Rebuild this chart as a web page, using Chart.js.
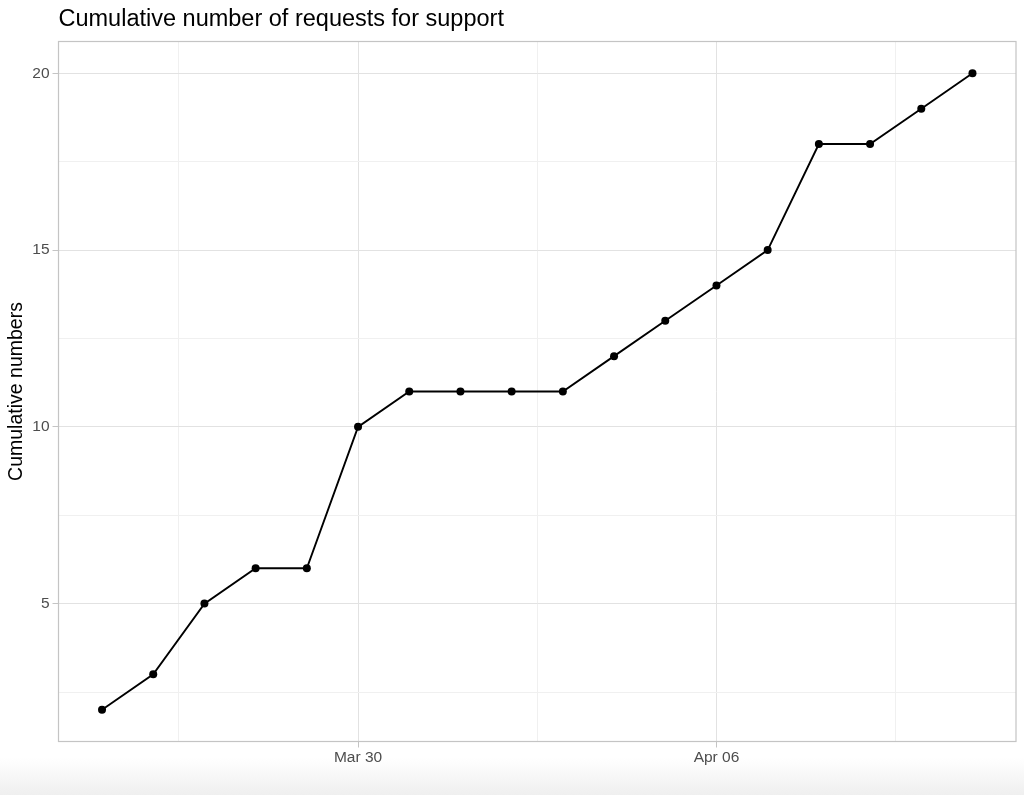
<!DOCTYPE html>
<html>
<head>
<meta charset="utf-8">
<script src="https://cdn.jsdelivr.net/npm/chart.js@4"></script>
<style>
  html, body { margin: 0; padding: 0; }
  body {
    width: 1024px; height: 795px;
    background: linear-gradient(to bottom, #ffffff 0px, #ffffff 758px, #efefef 795px);
  }
  #wrap { position: relative; width: 1024px; height: 795px; }
</style>
</head>
<body>
<div id="wrap"><canvas id="chart"></canvas></div>
<script>
// daily cumulative counts
const dates = [
  "2020-03-25", "2020-03-26", "2020-03-27", "2020-03-28", "2020-03-29", "2020-03-30",
  "2020-03-31", "2020-04-01", "2020-04-02", "2020-04-03", "2020-04-04", "2020-04-05",
  "2020-04-06", "2020-04-07", "2020-04-08", "2020-04-09", "2020-04-10", "2020-04-11"
];
const cumulative = [2, 3, 5, 6, 6, 10, 11, 11, 11, 11, 12, 13, 14, 15, 18, 18, 19, 20];

const yMajor = [5, 10, 15, 20];
const yMinor = [2.5, 7.5, 12.5, 17.5];
const xMajorDates = ["2020-03-30", "2020-04-06"];
const monthNames = ["Jan", "Feb", "Mar", "Apr", "May", "Jun", "Jul", "Aug", "Sep", "Oct", "Nov", "Dec"];

const DAY = 86400000;
const t0 = Date.parse(dates[0]);
const toDay = s => (Date.parse(s) - t0) / DAY;
const xMajor = xMajorDates.map(toDay);
// minor breaks halfway between majors (ggplot style)
const step = xMajor[1] - xMajor[0];
const xMinor = [xMajor[0] - step / 2, xMajor[0] + step / 2, xMajor[1] + step / 2];

function fmtDay(v) {
  const d = new Date(t0 + v * DAY);
  const dd = String(d.getUTCDate()).padStart(2, "0");
  return monthNames[d.getUTCMonth()] + " " + dd;
}

const points = dates.map((s, i) => ({ x: toDay(s), y: cumulative[i] }));
const xSpan = toDay(dates[dates.length - 1]);
const ySpan = Math.max(...cumulative) - Math.min(...cumulative);

const isMajorX = v => xMajor.some(m => Math.abs(m - v) < 1e-6);
const isMajorY = v => yMajor.some(m => Math.abs(m - v) < 1e-6);

const FONT = "Liberation Sans, Arial, sans-serif";

// panel border like theme_light
const panelBorder = {
  id: "panelBorder",
  afterDraw(chart) {
    const a = chart.chartArea, ctx = chart.ctx;
    ctx.save();
    ctx.strokeStyle = "#c4c4c4";
    ctx.lineWidth = 1.2;
    ctx.strokeRect(a.left, a.top, a.right - a.left, a.bottom - a.top);
    ctx.restore();
  }
};

const ctx = document.getElementById("chart").getContext("2d");
new Chart(ctx, {
  type: "line",
  data: {
    datasets: [{
      data: points,
      borderColor: "#000000",
      borderWidth: 1.9,
      backgroundColor: "#000000",
      pointRadius: 4,
      pointHoverRadius: 4,
      pointBorderWidth: 0,
      tension: 0,
      fill: false
    }]
  },
  options: {
    responsive: true,
    maintainAspectRatio: false,
    animation: false,
    events: [],
    layout: { padding: { left: 0, right: 8, top: 0, bottom: 0 } },
    plugins: {
      legend: { display: false },
      tooltip: { enabled: false },
      title: {
        display: true,
        text: "Cumulative number of requests for support",
        align: "start",
        fullSize: false,
        color: "#000000",
        font: { family: FONT, size: 23.5, weight: "normal" },
        padding: { top: 5.6, bottom: 7.7 }
      }
    },
    scales: {
      x: {
        type: "linear",
        min: -0.05 * xSpan,
        max: xSpan * 1.05,
        afterBuildTicks: s => { s.ticks = xMinor.concat(xMajor).sort((a, b) => a - b).map(v => ({ value: v })); },
        afterFit: s => { s.height = 53.5; },
        border: { display: false },
        grid: {
          color: c => isMajorX(c.tick.value) ? "#e2e2e2" : "#f0f0f0",
          lineWidth: 1,
          tickLength: 6,
          tickColor: c => isMajorX(c.tick.value) ? "#c4c4c4" : "rgba(0,0,0,0)",
          tickWidth: 1
        },
        ticks: {
          autoSkip: false,
          maxRotation: 0,
          padding: 1,
          color: "#4d4d4d",
          font: { family: FONT, size: 15.5 },
          callback: v => isMajorX(v) ? fmtDay(v) : ""
        }
      },
      y: {
        type: "linear",
        min: Math.min(...cumulative) - 0.05 * ySpan,
        max: Math.max(...cumulative) + 0.05 * ySpan,
        afterBuildTicks: s => { s.ticks = yMinor.concat(yMajor).sort((a, b) => a - b).map(v => ({ value: v })); },
        afterFit: s => { s.width = 58.5; },
        border: { display: false },
        grid: {
          color: c => isMajorY(c.tick.value) ? "#e2e2e2" : "#f0f0f0",
          lineWidth: 1,
          tickLength: 6,
          tickColor: c => isMajorY(c.tick.value) ? "#c4c4c4" : "rgba(0,0,0,0)",
          tickWidth: 1
        },
        ticks: {
          autoSkip: false,
          padding: 3,
          color: "#4d4d4d",
          font: { family: FONT, size: 15.5 },
          callback: v => isMajorY(v) ? String(v) : ""
        },
        title: {
          display: true,
          text: "Cumulative numbers",
          color: "#000000",
          font: { family: FONT, size: 19.5, weight: "normal" },
          padding: { top: 4.5, bottom: 0 }
        }
      }
    }
  },
  plugins: [panelBorder]
});
</script>
</body>
</html>
